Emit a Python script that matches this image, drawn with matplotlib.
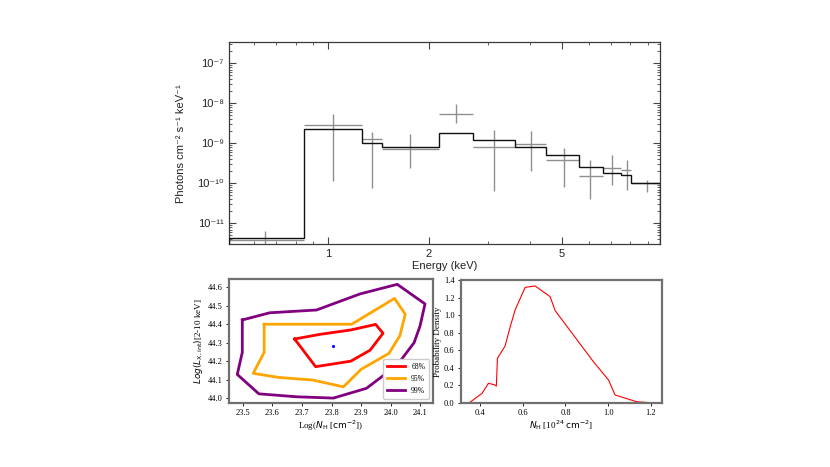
import matplotlib
matplotlib.use("Agg")
import matplotlib.pyplot as plt
import numpy as np
from matplotlib.ticker import FixedLocator, NullFormatter, FuncFormatter, LogLocator

# ---------------- data: X-ray spectrum ----------------
bin_edges = [0.505, 0.845, 1.26, 1.445, 2.14, 2.71, 3.61, 4.48, 5.63, 6.62, 7.5, 8.04, 9.8]
model_flux = [4.2e-12, 2.3e-9, 1.04e-9, 7.9e-10, 1.78e-9, 1.22e-9, 8.3e-10, 5.1e-10,
              2.57e-10, 1.85e-10, 1.65e-10, 1.0e-10]
data_x = [0.65, 1.035, 1.35, 1.756, 2.41, 3.14, 4.04, 5.05, 6.07, 7.07, 7.8, 8.95]
data_y = [3.8e-12, 2.88e-9, 1.26e-9, 7.2e-10, 5.3e-9, 8.3e-10, 9.8e-10, 3.85e-10,
          1.56e-10, 2.47e-10, 2.11e-10, 1.0e-10]
data_hi = [6.5e-12, 5.4e-9, 1.88e-9, 1.72e-9, 9.6e-9, 2.2e-9, 2.0e-9, 7.8e-10,
           3.9e-10, 5.2e-10, 3.9e-10, 1.24e-10]
data_lo = [1e-12, 1.17e-10, 7.7e-11, 2.37e-10, 3.16e-9, 6.4e-11, 2.07e-10, 8.0e-11,
           4.1e-11, 9.1e-11, 6.9e-11, 6.0e-11]
energy_ticks = [1, 2, 5]
flux_ticks = [1e-11, 1e-10, 1e-9, 1e-8, 1e-7]
flux_tick_labels = ["10⁻¹¹", "10⁻¹⁰", "10⁻⁹", "10⁻⁸", "10⁻⁷"]

# ---------------- data: confidence contours ----------------
c68_nh = [23.675, 23.76, 23.865, 23.949, 23.974, 23.93, 23.865, 23.746, 23.675]
c68_lx = [44.32, 44.345, 44.369, 44.399, 44.351, 44.259, 44.20, 44.17, 44.32]
c95_nh = [23.572, 23.868, 24.013, 24.049, 24.031, 23.994, 23.90, 23.84, 23.735, 23.62,
          23.535, 23.572, 23.572]
c95_lx = [44.40, 44.40, 44.54, 44.454, 44.338, 44.242, 44.156, 44.061, 44.098, 44.112,
          44.134, 44.248, 44.40]
c99_nh = [23.498, 23.591, 23.749, 23.896, 24.022, 24.116, 24.099, 24.079, 24.022, 23.918,
          23.806, 23.682, 23.554, 23.481, 23.498, 23.498]
c99_lx = [44.423, 44.462, 44.477, 44.564, 44.616, 44.51, 44.39, 44.30, 44.179, 44.053,
          44.0, 44.007, 44.023, 44.128, 44.248, 44.423]
best_nh = [23.805]
best_lx = [44.28]
contour_labels = ["68%", "95%", "99%"]

# ---------------- data: NH posterior ----------------
nh_grid = [0.35, 0.409, 0.439, 0.467, 0.476, 0.481, 0.517, 0.541, 0.564, 0.611, 0.658,
           0.728, 0.752, 0.931, 1.002, 1.033, 1.134, 1.197]
nh_density = [0.0, 0.107, 0.221, 0.205, 0.19, 0.506, 0.647, 0.867, 1.058, 1.316, 1.332,
              1.21, 1.05, 0.468, 0.259, 0.0875, 0.011, 0.0]

SANS = ["Liberation Sans", "DejaVu Sans"]
SERIF = ["Liberation Serif", "DejaVu Serif"]
plt.rcParams["mathtext.fontset"] = "dejavusans"

fig = plt.figure(figsize=(8.3, 4.67), dpi=100)

# ================= top: spectrum =================
ax1 = fig.add_axes([0.2755, 0.4769, 0.5196, 0.4325])
edges = np.array(bin_edges)
mflux = np.array(model_flux)
ax1.stairs(mflux, edges, color="#111111", lw=1.0, zorder=3)
dx = np.array(data_x)
dy = np.array(data_y)
xerr = np.vstack([dx - edges[:-1], edges[1:] - dx])
yerr = np.vstack([dy - np.array(data_lo), np.array(data_hi) - dy])
ax1.errorbar(dx, dy, xerr=xerr, yerr=yerr, fmt="none", ecolor="#8f8f8f",
             elinewidth=1.0, capsize=0, zorder=2)
ax1.set_xscale("log")
ax1.set_yscale("log")
ax1.set_xlim(0.505, 9.8)
ax1.set_ylim(2.99e-12, 3.35e-7)
ax1.xaxis.set_major_locator(FixedLocator(energy_ticks))
ax1.xaxis.set_major_formatter(FuncFormatter(lambda v, p: "%g" % v))
ax1.xaxis.set_minor_locator(FixedLocator([0.6, 0.7, 0.8, 0.9, 3, 4, 6, 7, 8, 9]))
ax1.xaxis.set_minor_formatter(NullFormatter())
ax1.yaxis.set_major_locator(FixedLocator(flux_ticks))
ax1.yaxis.set_major_formatter(FuncFormatter(
    lambda v, p: flux_tick_labels[flux_ticks.index(min(flux_ticks, key=lambda t: abs(np.log10(t) - np.log10(v))))]))
ax1.yaxis.set_minor_locator(LogLocator(base=10, subs=np.arange(2, 10)))
ax1.yaxis.set_minor_formatter(NullFormatter())
ax1.tick_params(which="both", direction="in", top=True, right=True, colors="#444444",
                labelcolor="#222222")
ax1.tick_params(which="major", length=5, width=0.8, labelsize=8)
ax1.tick_params(which="minor", length=2.5, width=0.6)
for lab in ax1.get_xticklabels() + ax1.get_yticklabels():
    lab.set_family(SANS)
for s in ax1.spines.values():
    s.set_color("#3a3a3a")
    s.set_linewidth(0.9)
ax1.set_xlabel("Energy (keV)", family=SANS, fontsize=8, labelpad=1.5, color="#222222")
ax1.set_ylabel("Photons cm⁻² s⁻¹ keV⁻¹", family=SANS, fontsize=8, labelpad=8, color="#222222")

# ================= bottom-left: contours =================
ax2 = fig.add_axes([0.2759, 0.1377, 0.2458, 0.2649])
ax2.plot(c68_nh, c68_lx, color="red", lw=2.0, label=contour_labels[0])
ax2.plot(c95_nh, c95_lx, color="orange", lw=2.0, label=contour_labels[1])
ax2.plot(c99_nh, c99_lx, color="purple", lw=2.0, label=contour_labels[2])
ax2.plot(best_nh, best_lx, ".", color="blue", ms=2.5)
ax2.set_xlim(23.453, 24.143)
ax2.set_ylim(43.975, 44.645)
ax2.set_xticks([23.5, 23.6, 23.7, 23.8, 23.9, 24.0, 24.1])
ax2.set_yticks([44.0, 44.1, 44.2, 44.3, 44.4, 44.5, 44.6])
ax2.set_xticklabels(["%.1f" % v for v in ax2.get_xticks()])
ax2.set_yticklabels(["%.1f" % v for v in ax2.get_yticks()])
ax2.tick_params(labelsize=6, length=2.5, width=0.6, pad=2)
for lab in ax2.get_xticklabels() + ax2.get_yticklabels():
    lab.set_family(SERIF)
for s in ax2.spines.values():
    s.set_color("#707070")
    s.set_linewidth(1.6)
ax2.set_xlabel(r"Log($N_{\rm H}$ [$\mathrm{cm}^{-2}$])", family=SERIF, fontsize=6.5, labelpad=1)
ax2.set_ylabel(r"$Log(L_{\rm X, int})$[2-10 keV]", family=SERIF, fontsize=6.5, labelpad=2)
leg = ax2.legend(loc="lower right", prop={"family": SERIF, "size": 5.5}, handlelength=2.4,
                 borderpad=0.5, labelspacing=0.55, framealpha=1, edgecolor="#cccccc")

# ================= bottom-right: posterior =================
ax3 = fig.add_axes([0.5551, 0.1377, 0.2422, 0.2627])
ax3.plot(nh_grid, nh_density, color="red", lw=0.8)
ax3.set_xlim(0.309, 1.2516)
ax3.set_ylim(0.0, 1.4)
ax3.set_xticks([0.4, 0.6, 0.8, 1.0, 1.2])
ax3.set_yticks([0.0, 0.2, 0.4, 0.6, 0.8, 1.0, 1.2, 1.4])
ax3.set_xticklabels(["%.1f" % v for v in ax3.get_xticks()])
ax3.set_yticklabels(["%.1f" % v for v in ax3.get_yticks()])
ax3.tick_params(labelsize=6, length=2.5, width=0.6, pad=2)
for lab in ax3.get_xticklabels() + ax3.get_yticklabels():
    lab.set_family(SERIF)
for s in ax3.spines.values():
    s.set_color("#707070")
    s.set_linewidth(1.6)
ax3.set_xlabel(r"$N_{\rm H}$ [10$^{24}$ $\mathrm{cm}^{-2}$]", family=SERIF, fontsize=6.5, labelpad=1)
ax3.set_ylabel("Probability Density", family=SERIF, fontsize=6.5, labelpad=1)

fig.savefig("out.png", dpi=100)
